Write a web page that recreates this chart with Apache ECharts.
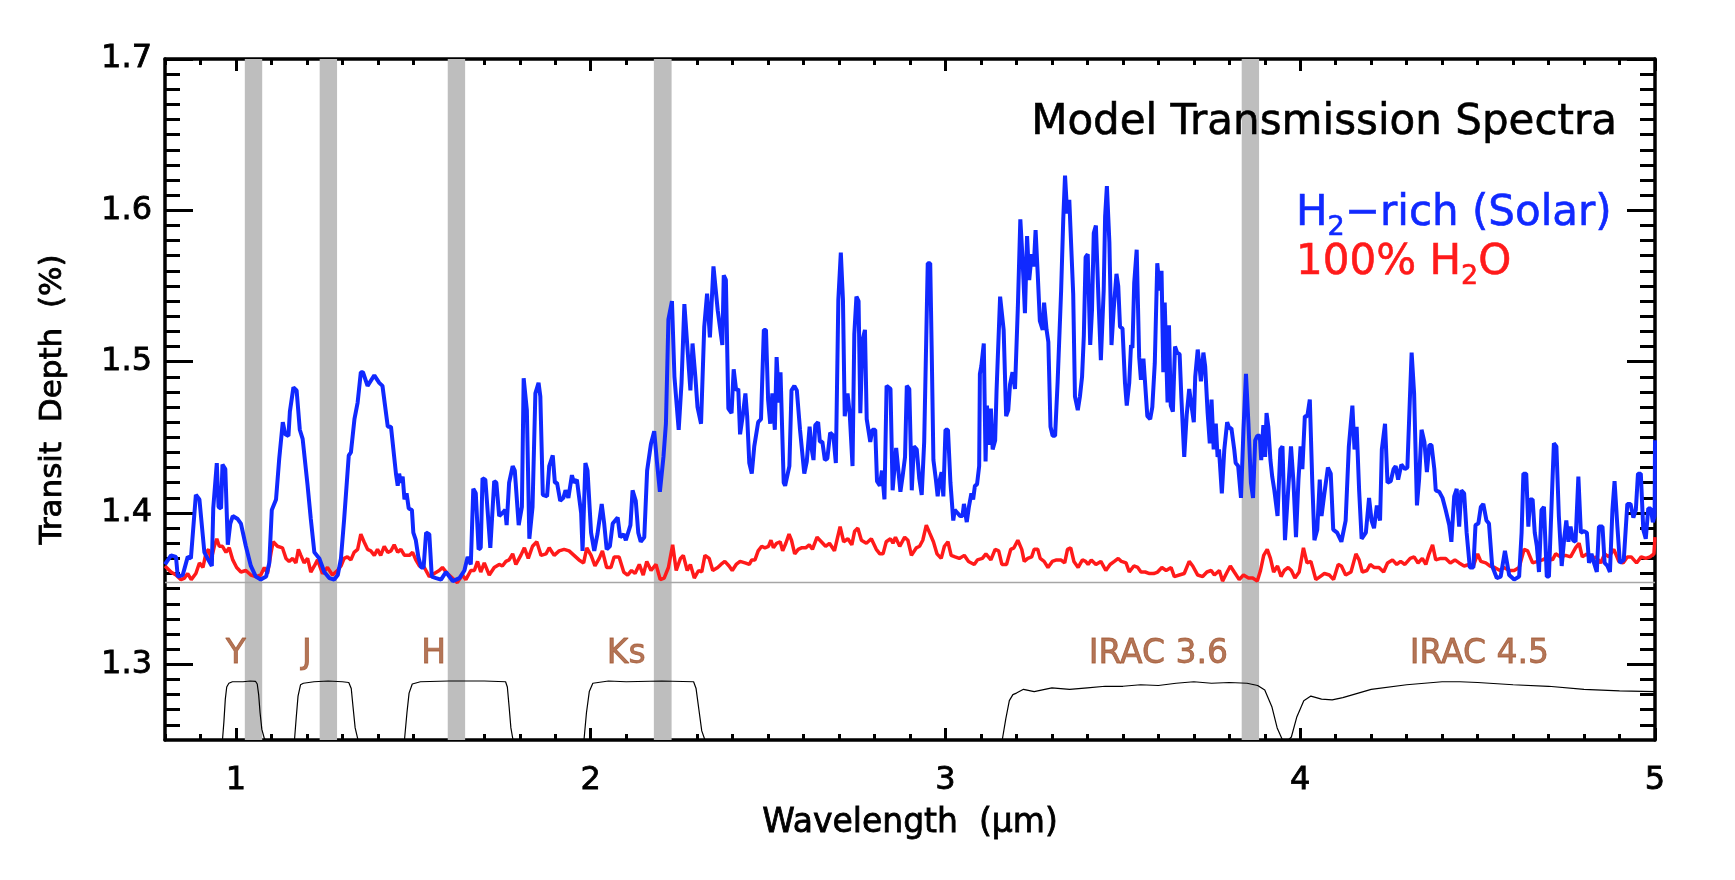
<!DOCTYPE html>
<html>
<head>
<meta charset="utf-8">
<script src="https://cdn.jsdelivr.net/npm/echarts@6/dist/echarts.min.js"></script>
<style>
html,body{margin:0;padding:0;background:#fff;}
#chart{width:1735px;height:880px;}
</style>
</head>
<body>
<div id="chart"></div>
<script>
// ---------------- DATA ----------------
const xMajorTicks = [1, 2, 3, 4, 5];
const yMajorTicks = [1.3, 1.4, 1.5, 1.6, 1.7];
const baselineDepth = 1.354;

// Gray highlighted wavelength bands (micron)
const bandStart = [1.025, 1.236, 1.597, 2.178, 3.835];
const bandEnd   = [1.074, 1.285, 1.646, 2.228, 3.884];

// Filter labels
const filterNames = ['Y', 'J', 'H', 'Ks', 'IRAC 3.6', 'IRAC 4.5'];
const filterLabelX = [1.0, 1.2, 1.557, 2.1, 3.6, 4.505];
const filterLabelY = 1.3065;

// H2-rich (solar) model spectrum [wavelength, depth %]
const solarSpectrum = [
[0.800,1.366],[0.803,1.365],[0.817,1.372],[0.831,1.371],[0.836,1.358],[0.850,1.359],[0.864,1.371],[0.873,1.370],[0.887,1.412],[0.897,1.409],[0.911,1.374],[0.920,1.370],[0.932,1.365],[0.936,1.403],[0.946,1.433],[0.951,1.404],[0.958,1.403],[0.962,1.432],[0.970,1.429],[0.977,1.379],[0.984,1.393],[0.991,1.398],[1.005,1.396],[1.014,1.393],[1.028,1.378],[1.042,1.365],[1.056,1.358],[1.070,1.356],[1.085,1.358],[1.094,1.367],[1.101,1.402],[1.113,1.409],[1.122,1.436],[1.132,1.460],[1.139,1.452],[1.148,1.451],[1.152,1.467],[1.162,1.483],[1.171,1.481],[1.180,1.455],[1.188,1.449],[1.202,1.418],[1.211,1.396],[1.221,1.374],[1.235,1.370],[1.249,1.361],[1.263,1.357],[1.277,1.356],[1.287,1.359],[1.296,1.370],[1.305,1.396],[1.318,1.438],[1.324,1.440],[1.334,1.462],[1.343,1.473],[1.352,1.493],[1.358,1.493],[1.371,1.484],[1.390,1.491],[1.404,1.486],[1.413,1.484],[1.428,1.457],[1.437,1.457],[1.451,1.426],[1.456,1.418],[1.460,1.426],[1.465,1.420],[1.470,1.424],[1.475,1.409],[1.481,1.413],[1.487,1.403],[1.496,1.402],[1.500,1.387],[1.507,1.382],[1.514,1.371],[1.522,1.364],[1.529,1.364],[1.536,1.387],[1.545,1.386],[1.552,1.358],[1.564,1.357],[1.578,1.356],[1.592,1.361],[1.611,1.355],[1.630,1.357],[1.644,1.362],[1.653,1.371],[1.662,1.366],
[1.669,1.416],[1.676,1.413],[1.684,1.376],[1.690,1.377],[1.695,1.423],[1.703,1.422],[1.717,1.377],[1.728,1.421],[1.734,1.420],[1.742,1.398],[1.751,1.400],[1.759,1.402],[1.763,1.392],[1.770,1.420],[1.780,1.431],[1.786,1.428],[1.797,1.392],[1.806,1.404],[1.811,1.489],[1.820,1.468],[1.827,1.383],[1.836,1.404],[1.844,1.479],[1.853,1.486],[1.858,1.477],[1.865,1.412],[1.877,1.411],[1.883,1.431],[1.893,1.438],[1.899,1.420],[1.905,1.420],[1.914,1.408],[1.923,1.410],[1.929,1.415],[1.937,1.410],[1.947,1.425],[1.953,1.420],[1.961,1.422],[1.973,1.400],[1.977,1.375],[1.985,1.433],[1.991,1.428],[2.001,1.387],[2.010,1.375],[2.019,1.386],[2.031,1.406],[2.038,1.393],[2.045,1.376],[2.054,1.378],[2.062,1.393],[2.076,1.397],[2.083,1.384],[2.093,1.386],[2.099,1.382],[2.112,1.392],[2.118,1.415],[2.127,1.408],[2.134,1.387],[2.141,1.381],[2.151,1.384],[2.159,1.428],[2.170,1.446],[2.179,1.454],[2.187,1.433],[2.195,1.414],[2.205,1.437],[2.212,1.459],[2.219,1.528],[2.229,1.540],[2.236,1.490],[2.248,1.455],[2.256,1.486],[2.264,1.538],[2.273,1.508],[2.281,1.481],[2.287,1.512],[2.295,1.490],[2.301,1.470],[2.311,1.459],[2.320,1.523],[2.328,1.545],[2.336,1.516],[2.346,1.563],[2.358,1.534],[2.371,1.511],
[2.375,1.557],[2.381,1.554],[2.388,1.469],[2.397,1.466],[2.403,1.495],[2.410,1.481],[2.416,1.482],[2.421,1.452],[2.429,1.465],[2.436,1.479],[2.441,1.464],[2.447,1.433],[2.454,1.426],[2.461,1.444],[2.472,1.460],[2.480,1.462],[2.488,1.521],[2.494,1.521],[2.500,1.475],[2.506,1.459],[2.512,1.479],[2.519,1.455],[2.524,1.503],[2.531,1.473],[2.535,1.493],[2.544,1.420],[2.548,1.418],[2.560,1.431],[2.566,1.481],[2.574,1.484],[2.581,1.481],[2.590,1.455],[2.602,1.426],[2.609,1.434],[2.617,1.457],[2.623,1.442],[2.628,1.435],[2.633,1.458],[2.641,1.460],[2.646,1.447],[2.653,1.447],[2.660,1.435],[2.667,1.436],[2.675,1.453],[2.684,1.451],[2.691,1.433],[2.698,1.541],[2.705,1.572],[2.711,1.541],[2.716,1.464],[2.724,1.479],[2.730,1.466],[2.738,1.431],[2.743,1.518],[2.749,1.543],[2.755,1.540],[2.760,1.466],[2.766,1.514],[2.773,1.521],[2.778,1.462],[2.783,1.462],[2.788,1.447],[2.794,1.455],[2.802,1.455],[2.807,1.421],[2.815,1.418],[2.821,1.428],[2.828,1.409],[2.834,1.484],[2.845,1.482],[2.851,1.415],[2.861,1.443],[2.865,1.442],[2.873,1.414],[2.879,1.424],[2.886,1.437],[2.891,1.484],[2.898,1.482],[2.905,1.415],[2.911,1.444],[2.919,1.442],[2.926,1.423],[2.933,1.412],[2.940,1.447],[2.944,1.448],[2.950,1.565],[2.957,1.565],[2.961,1.510],[2.966,1.435],[2.973,1.422],[2.978,1.411],[2.984,1.422],[2.989,1.427],[2.994,1.411],[3.000,1.455],[3.007,1.455],[3.014,1.420],[3.022,1.395],[3.026,1.402],[3.034,1.400],[3.041,1.398],[3.048,1.398],[3.052,1.406],[3.060,1.394],[3.066,1.404],[3.073,1.413],[3.078,1.409],[3.083,1.418],[3.089,1.419],[3.095,1.431],[3.097,1.492],[3.101,1.497],[3.108,1.512],[3.113,1.434],[3.117,1.471],[3.123,1.445],[3.128,1.469],[3.133,1.442],[3.140,1.448],[3.144,1.481],[3.154,1.543],
[3.164,1.521],[3.171,1.464],[3.177,1.468],[3.182,1.485],[3.189,1.493],[3.196,1.482],[3.204,1.536],[3.211,1.594],[3.217,1.569],[3.224,1.532],[3.230,1.583],[3.236,1.554],[3.243,1.571],[3.249,1.563],[3.254,1.587],[3.260,1.558],[3.266,1.527],[3.274,1.521],[3.278,1.539],[3.285,1.521],[3.290,1.513],[3.296,1.457],[3.302,1.451],[3.309,1.451],[3.316,1.486],[3.326,1.547],[3.332,1.594],[3.337,1.623],[3.343,1.598],[3.349,1.607],[3.354,1.607],[3.360,1.545],[3.365,1.477],[3.373,1.468],[3.379,1.477],[3.385,1.490],[3.390,1.517],[3.395,1.569],[3.401,1.571],[3.408,1.511],[3.413,1.534],[3.418,1.585],[3.424,1.590],[3.431,1.543],[3.438,1.501],[3.446,1.547],[3.450,1.596],[3.455,1.616],[3.462,1.579],[3.468,1.511],[3.474,1.534],[3.482,1.558],[3.487,1.550],[3.492,1.523],[3.499,1.522],[3.506,1.486],[3.511,1.471],[3.518,1.486],[3.523,1.511],[3.527,1.509],[3.532,1.552],[3.539,1.574],[3.546,1.503],[3.551,1.488],[3.558,1.502],[3.563,1.501],[3.569,1.464],[3.577,1.462],[3.583,1.470],[3.590,1.499],[3.597,1.565],[3.604,1.547],[3.609,1.560],[3.614,1.493],[3.618,1.539],[3.626,1.473],[3.630,1.524],[3.635,1.471],[3.641,1.467],[3.647,1.510],[3.653,1.506],[3.660,1.505],[3.665,1.476],[3.673,1.437],[3.680,1.465],[3.687,1.482],[3.692,1.481],[3.700,1.460],[3.704,1.490],[3.711,1.508],[3.716,1.497],[3.720,1.487],[3.727,1.506],[3.732,1.497],[3.739,1.466],[3.745,1.446],[3.750,1.475],[3.756,1.442],[3.762,1.459],[3.767,1.437],[3.771,1.442],[3.779,1.413],[3.786,1.442],[3.794,1.460],[3.800,1.456],[3.806,1.456],[3.814,1.442],[3.818,1.433],[3.825,1.431],[3.833,1.410],[3.840,1.455],[3.847,1.492],[3.854,1.459],[3.861,1.420],[3.867,1.410],[3.873,1.448],[3.879,1.451],[3.886,1.451],[3.890,1.435],[3.896,1.458],[3.901,1.437],[3.905,1.466],[3.910,1.457],[3.916,1.435],[3.921,1.424],[3.927,1.415],[3.936,1.398],[3.944,1.442],[3.950,1.444],[3.957,1.382],[3.964,1.408],[3.974,1.444],[3.981,1.420],[3.988,1.384],[3.995,1.422],[4.001,1.444],[4.006,1.429],[4.013,1.464],[4.020,1.464],[4.027,1.475],[4.034,1.420],[4.040,1.382],[4.048,1.389],[4.055,1.422],
[4.060,1.398],[4.067,1.411],[4.078,1.430],[4.086,1.426],[4.093,1.389],[4.104,1.387],[4.116,1.381],[4.128,1.395],[4.137,1.444],[4.147,1.471],[4.153,1.442],[4.159,1.457],[4.166,1.415],[4.173,1.383],[4.185,1.387],[4.194,1.410],[4.201,1.395],[4.208,1.390],[4.216,1.405],[4.225,1.395],[4.230,1.442],[4.239,1.459],[4.246,1.420],[4.255,1.421],[4.263,1.429],[4.269,1.431],[4.276,1.422],[4.285,1.432],[4.295,1.429],[4.302,1.430],[4.309,1.475],[4.314,1.506],[4.321,1.479],[4.329,1.405],[4.335,1.422],[4.342,1.455],[4.350,1.447],[4.357,1.427],[4.364,1.445],[4.370,1.445],[4.378,1.429],[4.382,1.415],[4.392,1.414],[4.401,1.410],[4.410,1.402],[4.420,1.392],[4.426,1.381],[4.434,1.411],[4.441,1.416],[4.448,1.391],[4.454,1.415],[4.462,1.413],[4.469,1.387],[4.478,1.364],[4.488,1.364],[4.494,1.392],[4.502,1.393],[4.509,1.404],[4.516,1.406],[4.525,1.395],[4.532,1.393],[4.541,1.365],[4.554,1.357],[4.565,1.358],[4.577,1.375],[4.589,1.359],[4.603,1.356],[4.617,1.358],[4.624,1.387],[4.629,1.426],[4.637,1.426],[4.643,1.391],[4.648,1.409],[4.655,1.409],[4.661,1.387],[4.667,1.378],[4.673,1.361],[4.680,1.402],[4.687,1.404],[4.695,1.358],[4.701,1.358],[4.709,1.409],[4.715,1.446],[4.722,1.444],[4.729,1.398],[4.737,1.365],[4.744,1.383],[4.750,1.395],[4.756,1.381],[4.762,1.391],[4.769,1.382],[4.776,1.381],[4.784,1.424],[4.791,1.387],[4.800,1.388],[4.808,1.387],[4.814,1.367],[4.821,1.373],[4.828,1.367],[4.836,1.361],[4.842,1.391],[4.852,1.391],[4.858,1.367],[4.866,1.365],[4.873,1.361],[4.880,1.402],[4.886,1.421],[4.894,1.391],[4.901,1.367],[4.912,1.369],[4.922,1.406],[4.931,1.406],[4.939,1.397],[4.946,1.402],[4.952,1.426],[4.960,1.426],[4.967,1.389],[4.974,1.383],[4.981,1.403],[4.988,1.403],[4.994,1.394],[4.999,1.398],[5.000,1.448]
];

// 100% H2O model spectrum [wavelength, depth %]
const waterSpectrum = [
[0.800,1.365],[0.803,1.364],[0.817,1.361],[0.831,1.359],[0.845,1.356],[0.855,1.357],[0.864,1.360],[0.874,1.356],[0.887,1.360],[0.897,1.367],[0.907,1.364],[0.916,1.374],[0.923,1.376],[0.930,1.369],[0.939,1.378],[0.946,1.383],[0.953,1.378],[0.962,1.378],[0.972,1.374],[0.981,1.377],[0.991,1.369],[1.002,1.364],[1.014,1.361],[1.028,1.362],[1.042,1.359],[1.056,1.358],[1.070,1.359],[1.080,1.364],[1.089,1.360],[1.099,1.374],[1.105,1.381],[1.117,1.378],[1.131,1.377],[1.141,1.370],[1.150,1.368],[1.160,1.370],[1.169,1.367],[1.176,1.376],[1.183,1.372],[1.192,1.367],[1.202,1.370],[1.211,1.361],[1.221,1.365],[1.230,1.369],[1.244,1.360],[1.258,1.364],[1.272,1.359],[1.286,1.362],[1.296,1.365],[1.305,1.370],[1.314,1.371],[1.324,1.369],[1.333,1.374],[1.343,1.376],[1.352,1.386],[1.361,1.381],[1.371,1.376],[1.380,1.375],[1.390,1.372],[1.399,1.376],[1.408,1.372],[1.418,1.378],[1.428,1.374],[1.437,1.375],[1.446,1.379],[1.456,1.374],[1.465,1.376],[1.475,1.372],[1.489,1.372],[1.498,1.374],[1.507,1.369],[1.517,1.365],[1.531,1.364],[1.545,1.358],[1.559,1.360],[1.573,1.362],[1.582,1.364],[1.596,1.360],[1.610,1.357],[1.624,1.354],[1.638,1.359],[1.648,1.356],
[1.662,1.362],[1.672,1.362],[1.681,1.368],[1.690,1.361],[1.700,1.367],[1.714,1.359],[1.728,1.364],[1.742,1.366],[1.751,1.365],[1.761,1.368],[1.770,1.369],[1.780,1.373],[1.789,1.366],[1.803,1.372],[1.813,1.377],[1.824,1.370],[1.836,1.378],[1.848,1.381],[1.860,1.372],[1.874,1.373],[1.883,1.377],[1.897,1.372],[1.911,1.375],[1.925,1.376],[1.939,1.375],[1.953,1.372],[1.967,1.369],[1.980,1.367],[1.989,1.377],[2.001,1.372],[2.012,1.365],[2.024,1.370],[2.033,1.375],[2.045,1.364],[2.057,1.364],[2.066,1.371],[2.080,1.371],[2.093,1.361],[2.104,1.359],[2.115,1.362],[2.125,1.360],[2.137,1.366],[2.148,1.359],[2.158,1.368],[2.170,1.362],[2.184,1.366],[2.196,1.356],[2.207,1.357],[2.219,1.364],[2.231,1.379],[2.241,1.362],[2.253,1.370],[2.261,1.372],[2.272,1.362],[2.281,1.366],[2.292,1.357],[2.304,1.362],[2.313,1.361],[2.322,1.372],[2.334,1.370],[2.344,1.362],[2.358,1.364],
[2.367,1.366],[2.378,1.368],[2.390,1.365],[2.399,1.362],[2.410,1.366],[2.421,1.368],[2.435,1.367],[2.447,1.366],[2.454,1.369],[2.463,1.369],[2.472,1.375],[2.482,1.378],[2.491,1.377],[2.501,1.378],[2.508,1.382],[2.515,1.377],[2.524,1.380],[2.534,1.381],[2.541,1.375],[2.550,1.380],[2.559,1.386],[2.566,1.382],[2.575,1.373],[2.585,1.376],[2.594,1.377],[2.606,1.377],[2.616,1.379],[2.625,1.376],[2.638,1.384],[2.650,1.381],[2.662,1.378],[2.673,1.380],[2.687,1.375],[2.694,1.382],[2.703,1.391],[2.713,1.381],[2.725,1.383],[2.736,1.379],[2.744,1.388],[2.753,1.390],[2.763,1.382],[2.777,1.380],[2.791,1.383],[2.805,1.376],[2.815,1.373],[2.824,1.373],[2.833,1.381],[2.845,1.383],[2.852,1.380],[2.859,1.384],[2.871,1.378],[2.885,1.384],[2.894,1.382],[2.904,1.372],[2.918,1.377],[2.927,1.378],[2.936,1.382],[2.946,1.392],[2.955,1.387],[2.966,1.381],[2.976,1.373],[2.988,1.370],[2.997,1.378],[3.007,1.381],[3.016,1.372],[3.027,1.371],[3.039,1.370],[3.053,1.372],[3.065,1.368],[3.081,1.366],[3.090,1.369],[3.104,1.370],[3.114,1.373],[3.128,1.369],[3.140,1.376],[3.150,1.375],[3.159,1.366],[3.172,1.366],[3.184,1.376],[3.193,1.377],[3.204,1.382],
[3.215,1.376],[3.222,1.368],[3.232,1.370],[3.243,1.371],[3.250,1.376],[3.260,1.376],[3.267,1.370],[3.278,1.368],[3.289,1.364],[3.301,1.368],[3.313,1.369],[3.325,1.369],[3.336,1.367],[3.344,1.376],[3.353,1.377],[3.362,1.368],[3.374,1.364],[3.386,1.369],[3.395,1.368],[3.402,1.366],[3.411,1.369],[3.424,1.366],[3.438,1.368],[3.452,1.362],[3.464,1.366],[3.476,1.368],[3.487,1.370],[3.496,1.368],[3.509,1.367],[3.518,1.361],[3.531,1.365],[3.542,1.364],[3.551,1.361],[3.563,1.361],[3.575,1.360],[3.587,1.360],[3.598,1.361],[3.610,1.364],[3.622,1.362],[3.636,1.364],[3.645,1.358],[3.659,1.359],[3.673,1.360],[3.687,1.368],[3.697,1.365],[3.711,1.359],[3.725,1.358],[3.737,1.361],[3.749,1.362],[3.758,1.359],[3.772,1.362],[3.781,1.355],[3.794,1.361],[3.803,1.365],[3.814,1.361],[3.828,1.356],[3.840,1.359],[3.854,1.357],[3.866,1.357],[3.879,1.355],[3.888,1.362],[3.897,1.372],[3.907,1.376],[3.916,1.370],[3.925,1.361],[3.936,1.365],[3.946,1.358],[3.955,1.362],[3.966,1.364],[3.975,1.362],[3.985,1.357],[3.997,1.361],[4.009,1.377],[4.019,1.367],[4.030,1.368],[4.044,1.356],[4.056,1.358],
[4.068,1.360],[4.082,1.359],[4.094,1.356],[4.107,1.366],[4.116,1.365],[4.128,1.359],[4.143,1.361],[4.157,1.373],[4.166,1.369],[4.175,1.361],[4.188,1.362],[4.197,1.366],[4.208,1.364],[4.222,1.364],[4.235,1.361],[4.246,1.367],[4.260,1.369],[4.272,1.366],[4.283,1.368],[4.295,1.366],[4.310,1.370],[4.321,1.371],[4.332,1.367],[4.344,1.370],[4.354,1.366],[4.363,1.373],[4.373,1.379],[4.382,1.369],[4.396,1.370],[4.410,1.370],[4.423,1.367],[4.436,1.369],[4.448,1.367],[4.462,1.365],[4.476,1.366],[4.488,1.365],[4.500,1.373],[4.509,1.368],[4.523,1.367],[4.535,1.365],[4.548,1.364],[4.563,1.362],[4.574,1.364],[4.589,1.362],[4.603,1.362],[4.617,1.364],[4.631,1.376],[4.641,1.375],[4.655,1.367],[4.669,1.368],[4.683,1.369],[4.697,1.371],[4.711,1.369],[4.720,1.373],[4.734,1.371],[4.748,1.372],[4.762,1.371],[4.776,1.377],[4.786,1.380],[4.795,1.371],[4.808,1.373],[4.819,1.369],[4.833,1.371],[4.847,1.367],[4.858,1.373],[4.870,1.371],[4.884,1.376],[4.898,1.368],[4.910,1.367],[4.922,1.371],[4.933,1.371],[4.948,1.367],[4.961,1.371],[4.974,1.370],[4.986,1.371],[4.997,1.373],[5.000,1.384]
];

// Filter transmission curves (scaled into depth units) [wavelength, value]
const filterY = [[0.958,1.24],[0.962,1.25],[0.966,1.262],[0.970,1.277],[0.974,1.285],[0.980,1.2875],[0.99,1.2885],[1.0,1.2885],[1.02,1.2885],[1.04,1.289],[1.055,1.2888],[1.060,1.287],[1.064,1.280],[1.068,1.268],[1.073,1.257],[1.080,1.251],[1.090,1.248]];
const filterJ = [[1.160,1.24],[1.165,1.25],[1.170,1.265],[1.175,1.279],[1.182,1.2865],[1.19,1.2875],[1.22,1.2885],[1.26,1.289],[1.30,1.2885],[1.318,1.288],[1.325,1.284],[1.330,1.272],[1.336,1.258],[1.343,1.251],[1.350,1.248]];
const filterH = [[1.470,1.24],[1.475,1.25],[1.482,1.268],[1.488,1.281],[1.497,1.287],[1.52,1.2885],[1.6,1.289],[1.7,1.289],[1.760,1.2885],[1.765,1.285],[1.770,1.272],[1.775,1.258],[1.781,1.25],[1.785,1.245]];
const filterKs = [[1.975,1.24],[1.981,1.25],[1.988,1.268],[1.996,1.282],[2.006,1.2875],[2.05,1.289],[2.1,1.2885],[2.2,1.289],[2.290,1.2885],[2.297,1.284],[2.305,1.270],[2.313,1.256],[2.322,1.25],[2.330,1.246]];
const filterIRAC = [[3.155,1.24],[3.160,1.25],[3.170,1.264],[3.180,1.276],[3.190,1.280],[3.2,1.281],[3.22,1.2835],[3.25,1.282],[3.3,1.2845],[3.35,1.2835],[3.4,1.2845],[3.45,1.2855],[3.5,1.2855],[3.55,1.2865],[3.6,1.286],[3.65,1.2875],[3.7,1.2885],[3.75,1.2875],[3.8,1.288],[3.85,1.2875],[3.88,1.286],[3.90,1.283],[3.92,1.272],[3.935,1.258],[3.95,1.25],[3.96,1.2485],[3.975,1.252],[3.99,1.265],[4.01,1.276],[4.03,1.279],[4.06,1.277],[4.09,1.2765],[4.12,1.278],[4.2,1.2835],[4.3,1.2865],[4.4,1.2885],[4.45,1.2885],[4.5,1.288],[4.6,1.2865],[4.7,1.2855],[4.8,1.2835],[4.9,1.2825],[5.0,1.282]];

// ---------------- CHART ----------------
const FONT = '"DejaVu Sans", sans-serif';
const xMinorTicks = [];
for (let i = 8; i <= 50; i++) if (i % 10 !== 0) xMinorTicks.push(i / 10);
const yMinorTicks = [];
for (let i = 126; i <= 169; i++) if (i % 10 !== 0) yMinorTicks.push(i / 100);

const chart = echarts.init(document.getElementById('chart'), null, {renderer: 'canvas'});

const axisLineStyle = {color: '#000', width: 3.5};
const heavy = c => ({textBorderColor: c, textBorderWidth: 0.8});
function xAxisDef(pos, ticks, len, withLine, withLabels) {
  return {
    type: 'value', position: pos, min: 0.8, max: 5, gridIndex: 0,
    splitLine: {show: false},
    axisLine: {show: withLine, onZero: false, lineStyle: axisLineStyle},
    axisTick: {show: true, inside: true, length: len, customValues: ticks, lineStyle: {color: '#000', width: 3}},
    axisLabel: withLabels ? Object.assign({show: true, customValues: xMajorTicks, margin: 25, fontSize: 32, fontFamily: FONT, color: '#000'}, heavy('#000')) : {show: false}
  };
}
function yAxisDef(pos, ticks, len, withLine, withLabels) {
  return {
    type: 'value', position: pos, min: 1.25, max: 1.7, gridIndex: 0,
    splitLine: {show: false},
    axisLine: {show: withLine, onZero: false, lineStyle: axisLineStyle},
    axisTick: {show: true, inside: true, length: len, customValues: ticks, lineStyle: {color: '#000', width: 3}},
    axisLabel: withLabels ? Object.assign({show: true, customValues: yMajorTicks, margin: 13, fontSize: 32, fontFamily: FONT, color: '#000', formatter: v => v.toFixed(1)}, heavy('#000')) : {show: false}
  };
}

const xAxes = [
  xAxisDef('bottom', xMajorTicks, 12, true, true),
  xAxisDef('bottom', xMinorTicks, 6, false, false),
  xAxisDef('top', xMajorTicks, 12, true, false),
  xAxisDef('top', xMinorTicks, 6, false, false)
];
Object.assign(xAxes[0], {name: 'Wavelength  (\u03bcm)', nameLocation: 'middle', nameGap: 67,
  nameTextStyle: Object.assign({fontSize: 33, fontFamily: FONT, color: '#000'}, heavy('#000'))});
const yAxes = [
  yAxisDef('left', yMajorTicks, 28, true, true),
  yAxisDef('left', yMinorTicks, 15, false, false),
  yAxisDef('right', yMajorTicks, 28, true, false),
  yAxisDef('right', yMinorTicks, 15, false, false)
];
Object.assign(yAxes[0], {name: 'Transit  Depth  (%)', nameLocation: 'middle', nameGap: 97, nameRotate: 90,
  nameTextStyle: Object.assign({fontSize: 31, fontFamily: FONT, color: '#000'}, heavy('#000'))});

const filterSeries = [filterY, filterJ, filterH, filterKs, filterIRAC].map(d => ({
  type: 'line', data: d, showSymbol: false, symbol: 'none', z: 3, silent: true,
  lineStyle: {color: '#000', width: 1.2}, clip: true
}));

// text measurement for subscripts
const mctx = document.createElement('canvas').getContext('2d');
function tw(s, size) { mctx.font = size + 'px ' + FONT; return mctx.measureText(s).width; }
function subText(parts, x0, yc, color) {
  const out = [];
  let x = x0;
  parts.forEach(([t, sub]) => {
    const size = sub ? 27 : 42;
    out.push({type: 'text', x: x, y: sub ? yc + 14 : yc, z: 100,
      style: {text: t, font: size + 'px ' + FONT, fill: color, stroke: color, lineWidth: 0.6, textAlign: 'left', textVerticalAlign: 'middle'}});
    x += tw(t, size);
  });
  return out;
}

const graphics = [
  {type: 'text', x: 1617, y: 123, z: 100,
   style: {text: 'Model Transmission Spectra', font: '42px ' + FONT, fill: '#000', stroke: '#000', lineWidth: 0.6, textAlign: 'right', textVerticalAlign: 'middle'}},
  ...subText([['H', false], ['2', true], ['\u2212rich (Solar)', false]], 1296, 214, '#1029ff'),
  ...subText([['100% H', false], ['2', true], ['O', false]], 1296, 263, '#ff1a1a')
];

const option = {
  animation: false,
  backgroundColor: '#fff',
  grid: {left: 165, right: 80, top: 59, bottom: 140, containLabel: false},
  xAxis: xAxes,
  yAxis: yAxes,
  graphic: graphics,
  series: [
    {
      type: 'line', name: 'baseline', data: [[0.8, baselineDepth], [5, baselineDepth]],
      showSymbol: false, symbol: 'none', z: 2, silent: true,
      lineStyle: {color: '#a6a6a6', width: 1.5},
      markArea: {
        silent: true, itemStyle: {color: '#bebebe'},
        data: bandStart.map((s, i) => [{xAxis: s}, {xAxis: bandEnd[i]}])
      }
    },
    ...filterSeries,
    {
      type: 'line', name: '100% H2O', data: waterSpectrum, showSymbol: false, symbol: 'none', z: 4,
      lineStyle: {color: '#ff1a1a', width: 3.5}
    },
    {
      type: 'line', name: 'H2-rich (Solar)', data: solarSpectrum, showSymbol: false, symbol: 'none', z: 5,
      lineStyle: {color: '#1029ff', width: 4}
    },
    {
      type: 'scatter', name: 'filters', symbolSize: 0, z: 6, silent: true,
      data: filterNames.map((n, i) => [filterLabelX[i], filterLabelY, n]),
      label: Object.assign({show: true, position: 'inside', formatter: p => p.data[2],
        fontSize: 33, fontFamily: FONT, color: '#a0522d'}, heavy('#a0522d'))
    }
  ]
};
chart.setOption(option);
</script>
</body>
</html>
